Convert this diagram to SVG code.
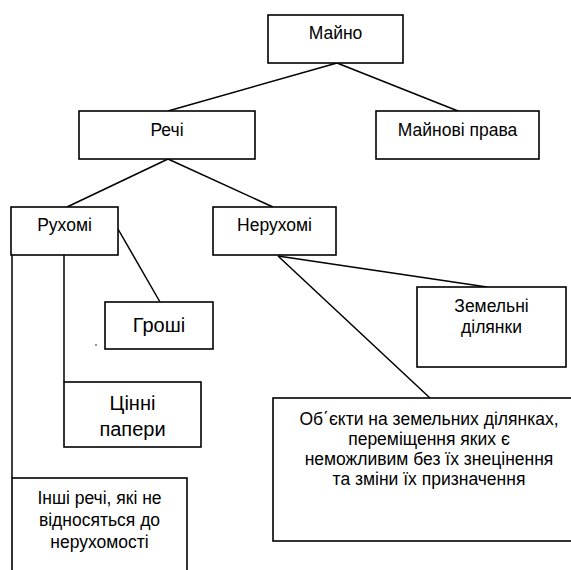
<svg xmlns="http://www.w3.org/2000/svg" width="571" height="570" viewBox="0 0 571 570">
<style>
.box{fill:#fff;stroke:#000;stroke-width:1.6}
.ln{fill:none;stroke:#000;stroke-width:1.5}
text{font-family:"Liberation Sans",Arial,sans-serif;font-size:17.5px;fill:#000;text-anchor:middle}
.big{font-size:20px}
</style>
<rect width="571" height="570" fill="#fff"/>
<g id="connectors">
<line class="ln" x1="337" y1="63" x2="168" y2="111"/>
<line class="ln" x1="337" y1="63" x2="458" y2="111"/>
<line class="ln" x1="168" y1="159" x2="67" y2="207"/>
<line class="ln" x1="168" y1="159" x2="273" y2="207"/>
<line class="ln" x1="118" y1="229" x2="160" y2="302"/>
<line class="ln" x1="64" y1="255" x2="64" y2="382"/>
<line class="ln" x1="12" y1="255" x2="12" y2="478"/>
<line class="ln" x1="278" y1="256" x2="487" y2="287"/>
<line class="ln" x1="278" y1="256" x2="430" y2="398"/>
</g>
<g id="maino">
<rect class="box" x="268" y="15" width="135" height="48"/>
<text x="335.5" y="39">Майно</text>
</g>
<g id="rechi">
<rect class="box" x="79" y="111" width="176" height="48"/>
<text x="167" y="136">Речі</text>
</g>
<g id="mainovi-prava">
<rect class="box" x="376" y="111" width="163" height="48"/>
<text x="457.5" y="136">Майнові права</text>
</g>
<g id="rukhomi">
<rect class="box" x="11" y="207" width="107" height="48"/>
<text x="64.5" y="231">Рухомі</text>
</g>
<g id="nerukhomi">
<rect class="box" x="213" y="207" width="123" height="48"/>
<text x="274.5" y="231">Нерухомі</text>
</g>
<g id="groshi">
<rect class="box" x="105" y="302" width="108" height="47"/>
<text class="big" x="159" y="332">Гроші</text>
</g>
<circle cx="96" cy="345" r="0.8" fill="#000"/>
<g id="tsinni-papery">
<rect class="box" x="64" y="382" width="137" height="65"/>
<text class="big" x="132.5" y="410">Цінні</text>
<text class="big" x="132.5" y="436">папери</text>
</g>
<g id="inshi-rechi">
<rect class="box" x="12" y="478" width="175" height="120"/>
<text x="99.5" y="504">Інші речі, які не</text>
<text x="99.5" y="526">відносяться до</text>
<text x="99.5" y="548">нерухомості</text>
</g>
<g id="zemelni-dilyanky">
<rect class="box" x="417" y="287" width="149" height="80"/>
<text x="491.5" y="312">Земельні</text>
<text x="491.5" y="333">ділянки</text>
</g>
<g id="obiekty">
<rect class="box" x="273" y="398" width="320" height="143"/>
<text x="429" y="425">Об΄єкти на земельних ділянках,</text>
<text x="429" y="445">переміщення яких є</text>
<text x="429" y="465">неможливим без їх знецінення</text>
<text x="429" y="485">та зміни їх призначення</text>
</g>
</svg>
